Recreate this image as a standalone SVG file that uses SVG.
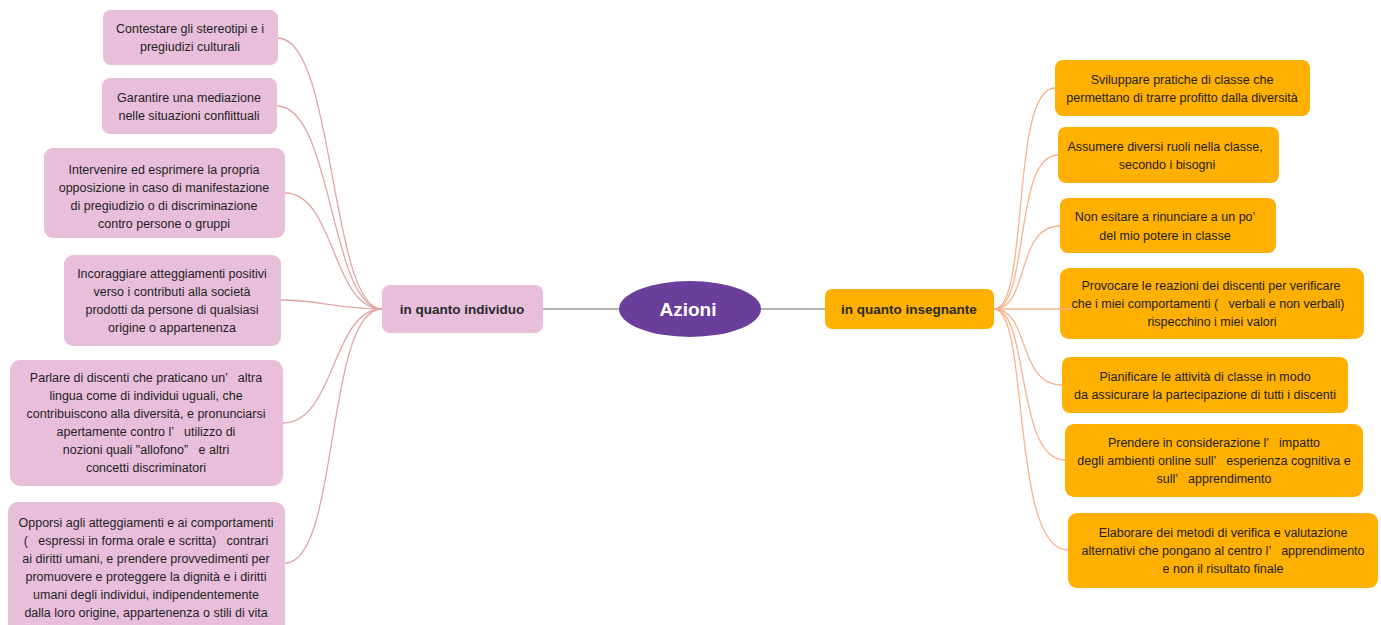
<svg xmlns="http://www.w3.org/2000/svg" width="1381" height="625" viewBox="0 0 1381 625">
<style>
.bg{fill:#ffffff}
.pk{fill:#E8BEDA}
.or{fill:#FFB000}
.t{font-family:"Liberation Sans",Arial,sans-serif;font-size:12.5px;fill:#1e1e1e;text-anchor:middle;white-space:pre}
.tb{font-family:"Liberation Sans",Arial,sans-serif;font-size:13.5px;font-weight:bold;fill:#2a2a2a;text-anchor:middle}
.tc{font-family:"Liberation Sans",Arial,sans-serif;font-size:19px;font-weight:bold;fill:#ffffff;text-anchor:middle}
.cl{fill:none;stroke:#E0A6A6;stroke-width:1.3}
.cr{fill:none;stroke:#F6B48C;stroke-width:1.3}
.cg{fill:none;stroke:#9a9a9a;stroke-width:1.6}
</style>
<rect class="bg" x="0" y="0" width="1381" height="625"/>

<g id="center">
<ellipse cx="690" cy="309" rx="71" ry="28" fill="#6A3E9A"/>
<text class="tc" x="688" y="316">Azioni</text>
</g>

<g id="individuo">
<rect class="pk" x="382" y="285" width="161" height="48" rx="8"/>
<text class="tb" x="462" y="314">in quanto individuo</text>
</g>

<g id="insegnante">
<rect class="or" x="825" y="289" width="169" height="40" rx="7"/>
<text class="tb" x="909" y="314">in quanto insegnante</text>
</g>

<g id="L1">
<rect class="pk" x="103" y="10" width="175" height="55" rx="8"/>
<text class="t" x="190" y="33">Contestare gli stereotipi e i</text>
<text class="t" x="190" y="51">pregiudizi culturali</text>
</g>
<g id="L2">
<rect class="pk" x="102" y="78" width="175" height="56" rx="8"/>
<text class="t" x="189" y="102">Garantire una mediazione</text>
<text class="t" x="189" y="120">nelle situazioni conflittuali</text>
</g>
<g id="L3">
<rect class="pk" x="44" y="148" width="241" height="90" rx="9"/>
<text class="t" x="164" y="174">Intervenire ed esprimere la propria</text>
<text class="t" x="164" y="192">opposizione in caso di manifestazione</text>
<text class="t" x="164" y="210">di pregiudizio o di discriminazione</text>
<text class="t" x="164" y="228">contro persone o gruppi</text>
</g>
<g id="L4">
<rect class="pk" x="64" y="255" width="217" height="91" rx="9"/>
<text class="t" x="172" y="278">Incoraggiare atteggiamenti positivi</text>
<text class="t" x="172" y="296">verso i contributi alla società</text>
<text class="t" x="172" y="314">prodotti da persone di qualsiasi</text>
<text class="t" x="172" y="332">origine o appartenenza</text>
</g>
<g id="L5">
<rect class="pk" x="10" y="360" width="273" height="126" rx="10"/>
<text class="t" x="146" y="382">Parlare di discenti che praticano un’   altra</text>
<text class="t" x="146" y="400">lingua come di individui uguali, che</text>
<text class="t" x="146" y="418">contribuiscono alla diversità, e pronunciarsi</text>
<text class="t" x="146" y="436">apertamente contro l’   utilizzo di</text>
<text class="t" x="146" y="454">nozioni quali "allofono”   e altri</text>
<text class="t" x="146" y="472">concetti discriminatori</text>
</g>
<g id="L6">
<rect class="pk" x="8" y="502" width="277" height="132" rx="10"/>
<text class="t" x="146" y="527">Opporsi agli atteggiamenti e ai comportamenti</text>
<text class="t" x="146" y="545">(   espressi in forma orale e scritta)   contrari</text>
<text class="t" x="146" y="563">ai diritti umani, e prendere provvedimenti per</text>
<text class="t" x="146" y="581">promuovere e proteggere la dignità e i diritti</text>
<text class="t" x="146" y="599">umani degli individui, indipendentemente</text>
<text class="t" x="146" y="617">dalla loro origine, appartenenza o stili di vita</text>
</g>

<g id="R1">
<rect class="or" x="1055" y="60" width="255" height="56" rx="8"/>
<text class="t" x="1182" y="84">Sviluppare pratiche di classe che</text>
<text class="t" x="1182" y="102">permettano di trarre profitto dalla diversità</text>
</g>
<g id="R2">
<rect class="or" x="1058" y="127" width="221" height="56" rx="8"/>
<text class="t" x="1165" y="151">Assumere diversi ruoli nella classe,</text>
<text class="t" x="1167" y="169">secondo i bisogni</text>
</g>
<g id="R3">
<rect class="or" x="1060" y="198" width="216" height="55" rx="8"/>
<text class="t" x="1165" y="221">Non esitare a rinunciare a un po’</text>
<text class="t" x="1165" y="240">del mio potere in classe</text>
</g>
<g id="R4">
<rect class="or" x="1060" y="268" width="304" height="71" rx="9"/>
<text class="t" x="1211" y="290">Provocare le reazioni dei discenti per verificare</text>
<text class="t" x="1208" y="308">che i miei comportamenti (   verbali e non verbali)</text>
<text class="t" x="1212" y="326">rispecchino i miei valori</text>
</g>
<g id="R5">
<rect class="or" x="1062" y="357" width="286" height="56" rx="8"/>
<text class="t" x="1205" y="381">Pianificare le attività di classe in modo</text>
<text class="t" x="1205" y="399">da assicurare la partecipazione di tutti i discenti</text>
</g>
<g id="R6">
<rect class="or" x="1065" y="424" width="298" height="73" rx="9"/>
<text class="t" x="1214" y="447">Prendere in considerazione l’   impatto</text>
<text class="t" x="1214" y="465">degli ambienti online sull’   esperienza cognitiva e</text>
<text class="t" x="1214" y="483">sull’   apprendimento</text>
</g>
<g id="R7">
<rect class="or" x="1068" y="513" width="310" height="75" rx="9"/>
<text class="t" x="1223" y="537">Elaborare dei metodi di verifica e valutazione</text>
<text class="t" x="1223" y="555">alternativi che pongano al centro l’   apprendimento</text>
<text class="t" x="1223" y="573">e non il risultato finale</text>
</g>

<g id="connectors">
<line class="cg" x1="543" y1="309" x2="619" y2="309"/>
<line class="cg" x1="761" y1="309" x2="825" y2="309"/>
<path class="cl" d="M278 38 C335 38 330 309 382 309"/>
<path class="cl" d="M277 106 C333 106 330 309 382 309"/>
<path class="cl" d="M285 193 C335 193 332 309 382 309"/>
<path class="cl" d="M281 300 C320 300 335 309 382 309"/>
<path class="cl" d="M283 423 C335 423 332 309 382 309"/>
<path class="cl" d="M285 563 C340 563 325 309 382 309"/>
<path class="cr" d="M994 309 C1030 309 1010 88 1055 88"/>
<path class="cr" d="M994 309 C1030 309 1013 155 1058 155"/>
<path class="cr" d="M994 309 C1030 309 1015 226 1060 226"/>
<path class="cr" d="M994 309 L1072 309"/>
<path class="cr" d="M994 309 C1030 309 1017 385 1062 385"/>
<path class="cr" d="M994 309 C1030 309 1015 460 1065 460"/>
<path class="cr" d="M994 309 C1030 309 1010 550 1068 550"/>
</g>
</svg>
